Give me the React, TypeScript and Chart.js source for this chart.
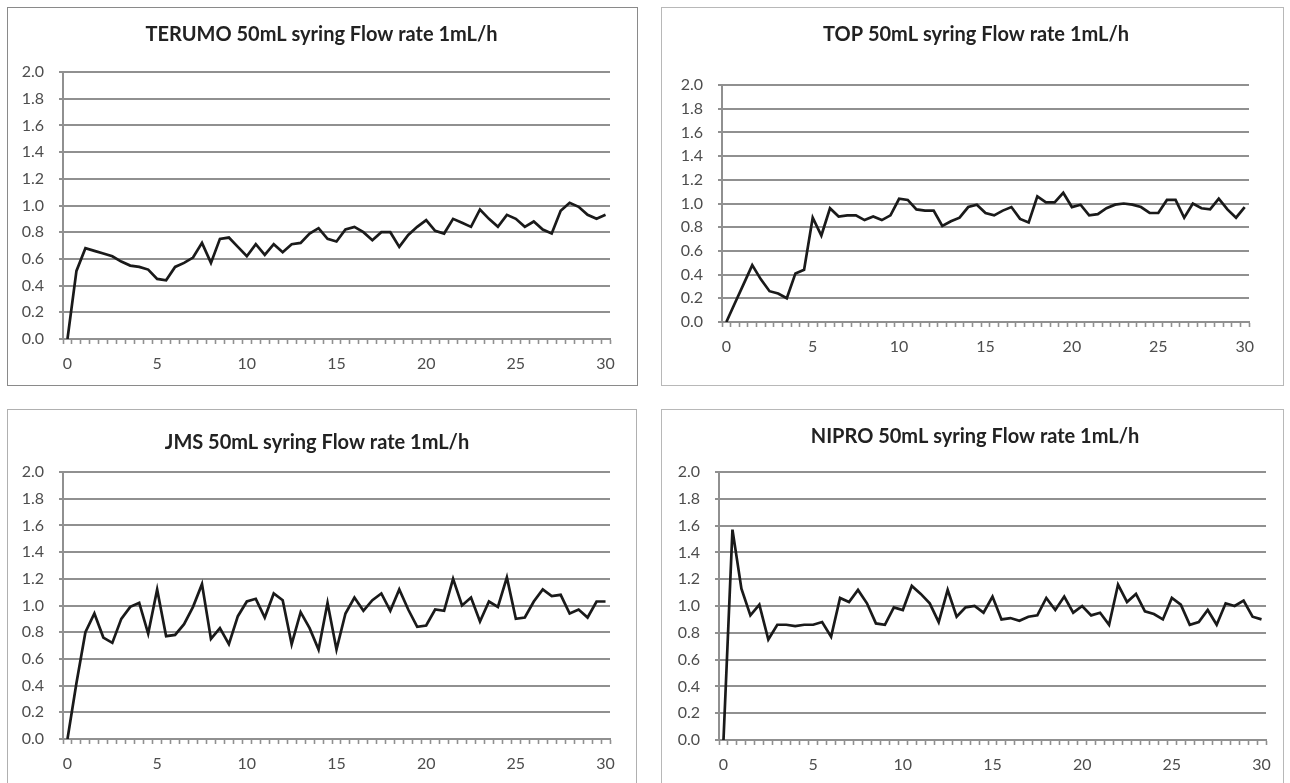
import React, { useEffect, useRef } from 'react';
import { Chart, registerables } from 'chart.js';

Chart.register(...registerables);

// ---------- DATA ----------
const TIME_LABELS = [
  '0', '0.5', '1', '1.5', '2', '2.5', '3', '3.5', '4', '4.5',
  '5', '5.5', '6', '6.5', '7', '7.5', '8', '8.5', '9', '9.5',
  '10', '10.5', '11', '11.5', '12', '12.5', '13', '13.5', '14', '14.5',
  '15', '15.5', '16', '16.5', '17', '17.5', '18', '18.5', '19', '19.5',
  '20', '20.5', '21', '21.5', '22', '22.5', '23', '23.5', '24', '24.5',
  '25', '25.5', '26', '26.5', '27', '27.5', '28', '28.5', '29', '29.5',
  '30',
];

const SHOWN_X_TICKS = ['0', '5', '10', '15', '20', '25', '30'];

const Y_MIN = 0;
const Y_MAX = 2;
const Y_STEP = 0.2;

const TERUMO = [
  0.00, 0.51, 0.68, 0.66, 0.64, 0.62, 0.58, 0.55, 0.54, 0.52,
  0.45, 0.44, 0.54, 0.57, 0.61, 0.72, 0.57, 0.75, 0.76, 0.69,
  0.62, 0.71, 0.63, 0.71, 0.65, 0.71, 0.72, 0.79, 0.83, 0.75,
  0.73, 0.82, 0.84, 0.80, 0.74, 0.80, 0.80, 0.69, 0.78, 0.84,
  0.89, 0.81, 0.79, 0.90, 0.87, 0.84, 0.97, 0.90, 0.84, 0.93,
  0.90, 0.84, 0.88, 0.82, 0.79, 0.96, 1.02, 0.99, 0.93, 0.90,
  0.93,
];

const TOP = [
  0.00, 0.16, 0.32, 0.48, 0.36, 0.26, 0.24, 0.20, 0.41, 0.44,
  0.88, 0.73, 0.96, 0.89, 0.90, 0.90, 0.86, 0.89, 0.86, 0.90,
  1.04, 1.03, 0.95, 0.94, 0.94, 0.81, 0.85, 0.88, 0.97, 0.99,
  0.92, 0.90, 0.94, 0.97, 0.87, 0.84, 1.06, 1.01, 1.01, 1.09,
  0.97, 0.99, 0.90, 0.91, 0.96, 0.99, 1.00, 0.99, 0.97, 0.92,
  0.92, 1.03, 1.03, 0.88, 1.00, 0.96, 0.95, 1.04, 0.95, 0.88,
  0.97,
];

const JMS = [
  0.00, 0.42, 0.80, 0.94, 0.76, 0.72, 0.90, 0.99, 1.02, 0.79,
  1.12, 0.77, 0.78, 0.86, 0.99, 1.16, 0.75, 0.83, 0.71, 0.92,
  1.03, 1.05, 0.91, 1.09, 1.04, 0.71, 0.95, 0.83, 0.67, 1.02,
  0.67, 0.94, 1.06, 0.96, 1.04, 1.09, 0.96, 1.12, 0.97, 0.84,
  0.85, 0.97, 0.96, 1.20, 1.00, 1.06, 0.88, 1.03, 0.99, 1.21,
  0.90, 0.91, 1.03, 1.12, 1.07, 1.08, 0.94, 0.97, 0.91, 1.03,
  1.03,
];

const NIPRO = [
  0.00, 1.57, 1.13, 0.93, 1.01, 0.75, 0.86, 0.86, 0.85, 0.86,
  0.86, 0.88, 0.77, 1.06, 1.03, 1.12, 1.02, 0.87, 0.86, 0.99,
  0.97, 1.15, 1.09, 1.02, 0.88, 1.12, 0.92, 0.99, 1.00, 0.95,
  1.07, 0.90, 0.91, 0.89, 0.92, 0.93, 1.06, 0.97, 1.07, 0.95,
  1.00, 0.93, 0.95, 0.86, 1.16, 1.03, 1.09, 0.96, 0.94, 0.90,
  1.06, 1.01, 0.86, 0.88, 0.97, 0.86, 1.02, 1.00, 1.04, 0.92,
  0.90,
];

const TITLES = [
  'TERUMO 50mL syring Flow rate 1mL/h',
  'TOP 50mL syring Flow rate 1mL/h',
  'JMS 50mL syring Flow rate 1mL/h',
  'NIPRO 50mL syring Flow rate 1mL/h',
];

// ---------- LAYOUT (page pixel geometry) ----------
type Geo = {
  box: { x: number; y: number; w: number; h: number };
  plot: { l: number; r: number; t: number; b: number };
  titleX: number;
  titleY: number;
  borderColor: string;
};

const GEOS: Geo[] = [
  { box: { x: 7, y: 7, w: 631, h: 379 }, plot: { l: 63, r: 610, t: 72, b: 339 }, titleX: 321.5, titleY: 35, borderColor: '#8a8a8a' },
  { box: { x: 661, y: 7, w: 623, h: 379 }, plot: { l: 722, r: 1249, t: 85, b: 322 }, titleX: 976, titleY: 35, borderColor: '#b8b8b8' },
  { box: { x: 7, y: 409, w: 630, h: 380 }, plot: { l: 63, r: 610, t: 472, b: 739 }, titleX: 317, titleY: 443, borderColor: '#b0b0b0' },
  { box: { x: 661, y: 409, w: 623, h: 380 }, plot: { l: 719, r: 1266, t: 472, b: 740 }, titleX: 975, titleY: 437, borderColor: '#b8b8b8' },
];

const SERIES = [TERUMO, TOP, JMS, NIPRO];

const FONT = 'Lato, "Open Sans", "DejaVu Sans", sans-serif';
const GRID = '#909090';
const LABEL = '#4d4d4d';
const TITLE_SIZE = 20;
const TITLE_LH = 1.2;

function Panel({ idx }: { idx: number }) {
  const ref = useRef<HTMLCanvasElement | null>(null);
  const g = GEOS[idx];

  useEffect(() => {
    const canvas = ref.current;
    if (!canvas) return;
    const { box, plot } = g;
    const W = box.w;
    const L = plot.l - box.x;
    const R = plot.r - box.x;
    const T = plot.t - box.y;
    const B = plot.b - box.y;
    const tcx = g.titleX - box.x;
    const padLeft = Math.max(0, 2 * tcx - W);
    const padRight = padLeft + W - 2 * tcx;
    const yAxisW = L - padLeft;
    const rightW = W - padRight - R;
    const titleH = TITLE_SIZE * TITLE_LH;
    const tTop = g.titleY - box.y - titleH / 2;
    const tBottom = T - tTop - titleH;
    const xAxisH = box.h - B;

    const chart = new Chart(canvas, {
      type: 'line',
      data: {
        labels: TIME_LABELS,
        datasets: [
          {
            data: SERIES[idx],
            borderColor: '#1a1a1a',
            borderWidth: 2.7,
            pointRadius: 0,
            tension: 0,
            fill: false,
            yAxisID: 'y',
          },
        ],
      },
      options: {
        animation: false,
        responsive: false,
        devicePixelRatio: 1,
        layout: { padding: { left: padLeft, right: padRight, top: 0, bottom: 0 } },
        plugins: {
          legend: { display: false },
          tooltip: { enabled: false },
          title: {
            display: true,
            text: TITLES[idx],
            color: '#222222',
            font: { family: FONT, size: TITLE_SIZE, weight: 'bold', lineHeight: TITLE_LH },
            padding: { top: tTop, bottom: tBottom },
          },
        },
        scales: {
          x: {
            type: 'category',
            offset: true,
            afterFit: (s: any) => {
              s.height = xAxisH;
            },
            grid: {
              offset: true,
              drawOnChartArea: false,
              drawTicks: true,
              tickLength: 5,
              tickColor: GRID,
              tickWidth: 1.6,
              color: GRID,
            },
            border: { display: true, color: GRID, width: 2 },
            ticks: {
              autoSkip: false,
              maxRotation: 0,
              minRotation: 0,
              padding: 10,
              color: LABEL,
              font: { family: FONT, size: 16 },
              callback: (_v: any, i: number) => {
                const lab = TIME_LABELS[i];
                return SHOWN_X_TICKS.includes(lab) ? lab : '';
              },
            },
          },
          y: {
            position: 'left',
            min: Y_MIN,
            max: Y_MAX,
            afterFit: (s: any) => {
              s.width = yAxisW;
            },
            grid: { color: GRID, lineWidth: 2, tickLength: 4, drawTicks: true },
            border: { display: true, color: GRID, width: 2 },
            ticks: {
              stepSize: Y_STEP,
              padding: 15,
              color: LABEL,
              font: { family: FONT, size: 16 },
              callback: (v: any) => Number(v).toFixed(1),
            },
          },
          ySpacer: {
            type: 'linear',
            position: 'right',
            display: true,
            afterFit: (s: any) => {
              s.width = rightW;
            },
            grid: { display: false, drawTicks: false },
            border: { display: false },
            ticks: { display: false },
          },
        },
      },
    } as any);
    return () => chart.destroy();
  }, []);

  return (
    <>
      <canvas
        ref={ref}
        width={g.box.w}
        height={g.box.h}
        style={{ position: 'absolute', left: g.box.x, top: g.box.y, width: g.box.w, height: g.box.h }}
      />
      <div
        style={{
          position: 'absolute',
          left: g.box.x,
          top: g.box.y,
          width: g.box.w,
          height: g.box.h,
          boxSizing: 'border-box',
          border: `1px solid ${g.borderColor}`,
          pointerEvents: 'none',
        }}
      />
    </>
  );
}

export default function App() {
  return (
    <div
      style={{
        position: 'absolute',
        left: 0,
        top: 0,
        width: 1290,
        height: 783,
        overflow: 'hidden',
        background: '#ffffff',
      }}
    >
      {GEOS.map((_, i) => (
        <Panel key={i} idx={i} />
      ))}
    </div>
  );
}
